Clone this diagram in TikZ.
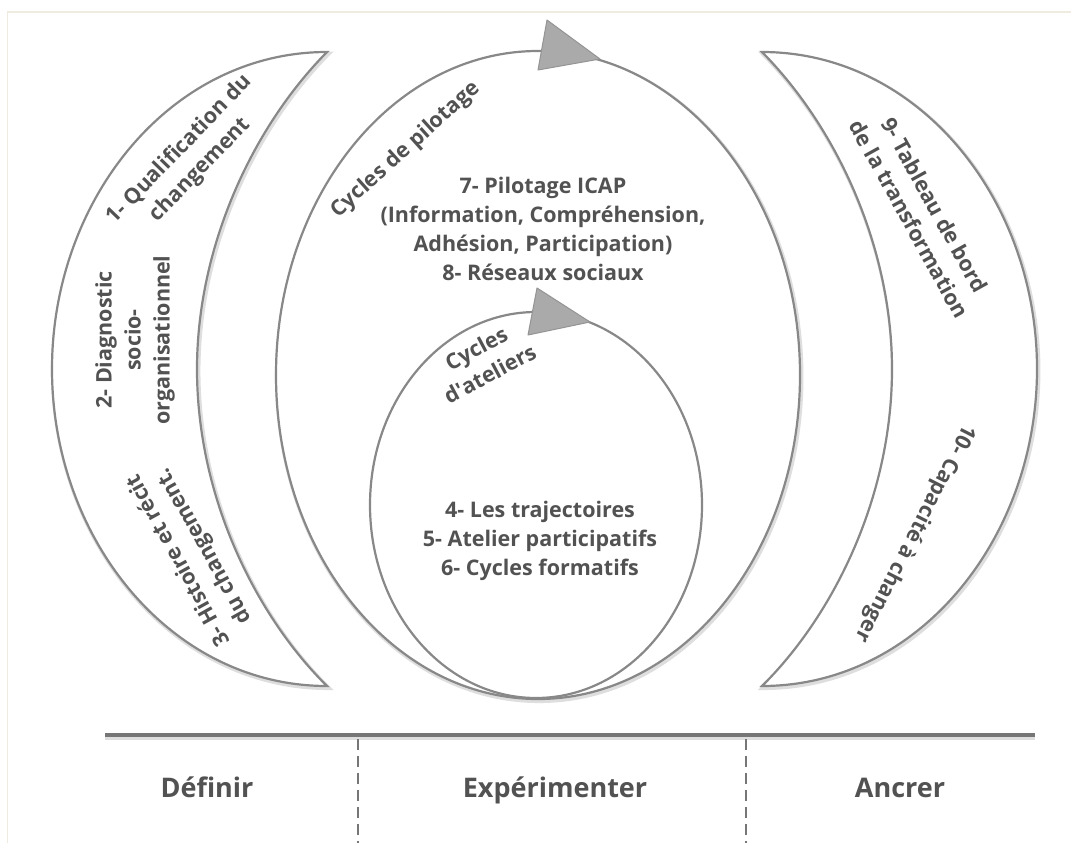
\documentclass[tikz,border=0pt]{standalone}
\usepackage{fontspec}
\setmainfont{Open Sans}
\usetikzlibrary{calc}

\definecolor{edge}{RGB}{136,136,136}
\definecolor{halo}{RGB}{222,222,222}
\definecolor{ink}{RGB}{82,82,82}
\definecolor{framecol}{RGB}{239,235,225}
\definecolor{headfill}{RGB}{170,170,170}
\definecolor{rulecol}{RGB}{118,118,118}

\begin{document}
\begin{tikzpicture}[x=1pt,y=-1pt,
  outline/.style={draw=edge,line width=2.2pt},
  softshadow/.style={draw=halo,line width=4.5pt,shift={(1.2,1.8)}},
  headstyle/.style={fill=headfill,draw=edge!90,line width=1pt,line join=round},
  txt/.style={text=ink,font=\bfseries\fontsize{21.5}{29}\selectfont,align=center,inner sep=0pt},
  phase/.style={text=ink,font=\bfseries\fontsize{27}{32}\selectfont,inner sep=0pt,anchor=base},
  phaseline/.style={draw=rulecol,line width=3.5pt},
  divider/.style={draw=rulecol,line width=2.6pt,dash pattern=on 11pt off 6pt}]

\useasboundingbox (0,0) rectangle (1071,843);
\fill[white] (0,0) rectangle (1071,843);

% thin page frame
\draw[framecol,line width=1.6pt] (7.5,843) -- (7.5,12) -- (1071,12);

% crescent outlines (left and right), built from two curves each
\def\leftcrescent{(327,52) .. controls (170,52) and (52,200) .. (52,369)
   .. controls (52,538) and (170,686) .. (327,686)
   .. controls (258,618) and (197,500) .. (197,369)
   .. controls (197,250) and (250,130) .. cycle}
\def\rightcrescent{(762,52) .. controls (919,52) and (1037,200) .. (1037,369)
   .. controls (1037,538) and (919,686) .. (762,686)
   .. controls (831,618) and (892,500) .. (892,369)
   .. controls (892,250) and (839,130) .. cycle}

\draw[softshadow,line join=miter] \leftcrescent;
\draw[softshadow,line join=miter] \rightcrescent;
\draw[softshadow] (538,375) ellipse (262 and 324);
\draw[softshadow] (536,505) ellipse (166 and 193);

\draw[outline,fill=white] \leftcrescent;
\draw[outline,fill=white] \rightcrescent;
\draw[outline,fill=white] (538,375) ellipse (262 and 324);
\draw[outline] (536,505) ellipse (166 and 193);

% cycle arrowheads
\filldraw[headstyle] (547,20) -- (600,59) -- (538,70) -- cycle;
\filldraw[headstyle] (537,288) -- (590,322) -- (528,335) -- cycle;

% texts of the left crescent
\node[txt,rotate=46] (qual) at (190,160) {1- Qualification du\\changement};
\node[txt,rotate=90] (diag) at (135,340) {2- Diagnostic\\socio-\\organisationnel};
\node[txt,rotate=119] (hist) at (192,553) {3- Histoire et récit\\du changement.};

% texts of the cycles
\node[txt,rotate=42] (pilot) at (406,150) {Cycles de pilotage};
\node[txt,rotate=28] (atel) at (483,361) {Cycles\\d\textquotesingle ateliers};
\node[txt] (icap) at (543,229) {7- Pilotage ICAP\\(Information, Compréhension,\\Adhésion, Participation)\\8- Réseaux sociaux};
\node[txt] (traj) at (540,541) {4- Les trajectoires\\5- Atelier participatifs\\6- Cycles formatifs};

% texts of the right crescent
\node[txt,rotate=-61] (tabl) at (922,212) {9- Tableau de bord\\de la transformation};
\node[txt,rotate=-117] (capa) at (915,533) {10- Capacité à changer};

% phase axis
\coordinate (axisL) at (105,735);
\coordinate (axisR) at (1035,735);
\coordinate (cut1) at (358,739);
\coordinate (cut1b) at (358,843);
\coordinate (cut2) at (746,739);
\coordinate (cut2b) at (746,843);
\draw[draw=halo,line width=5pt] ($(axisL)+(0,2)$) -- ($(axisR)+(0,2)$);
\draw[phaseline] (axisL) -- (axisR);
\draw[divider] (cut1) -- (cut1b);
\draw[divider] (cut2) -- (cut2b);

\node[phase] (def) at (207,797) {Définir};
\node[phase] (exp) at (555,797) {Expérimenter};
\node[phase] (anc) at (900,797) {Ancrer};
\end{tikzpicture}
\end{document}
